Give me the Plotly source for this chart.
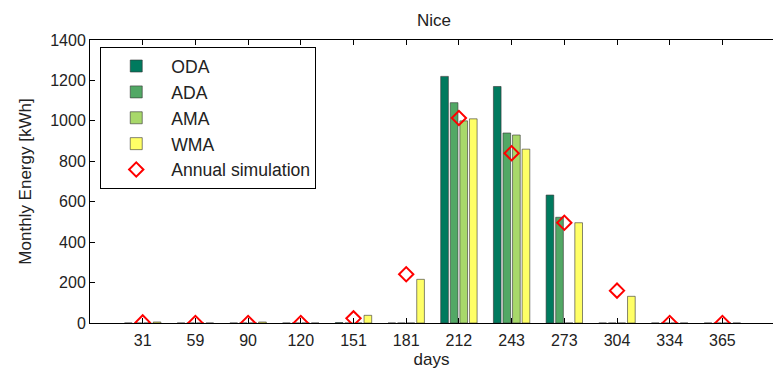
import plotly.graph_objects as go

categories = ["31", "59", "90", "120", "151", "181", "212", "243", "273", "304", "334", "365"]
oda = [0, 0, 0, 0, 2, 0, 1220, 1170, 633, 0, 0, 0]
ada = [0, 0, 0, 0, 0, 0, 1090, 940, 523, 0, 0, 0]
ama = [0, 0, 0, 0, 0, 0, 1000, 930, 0, 0, 0, 0]
wma = [5, 0, 5, 0, 38, 216, 1010, 860, 496, 132, 0, 0]
annual = [3, 0, 0, 0, 23, 241, 1014, 840, 496, 160, 0, 0]
y_ticks = [0, 200, 400, 600, 800, 1000, 1200, 1400]

series_names = ["ODA", "ADA", "AMA", "WMA"]
series_colors = ["#007A5E", "#52A865", "#A8D86A", "#FFFF66"]
series_values = [oda, ada, ama, wma]

xpos = list(range(1, len(categories) + 1))

fig = go.Figure()
for name, col, vals in zip(series_names, series_colors, series_values):
    fig.add_trace(go.Bar(
        x=xpos, y=vals, name=name, legendgroup=name,
        marker=dict(color=col, line=dict(color="#333333", width=0.6)),
    ))
fig.add_trace(go.Scatter(
    x=xpos, y=annual, mode="markers", name="Annual simulation", legendgroup="ann",
    marker=dict(symbol="diamond-open", size=11, color="#FF0000", line=dict(width=2, color="#FF0000")),
))

font = "Liberation Sans, Arial, sans-serif"
fig.update_layout(
    width=773, height=369,
    margin=dict(l=90, r=0, t=40, b=46),
    paper_bgcolor="white", plot_bgcolor="white",
    barmode="group", bargap=0.273, bargroupgap=0.2,
    font=dict(family=font, size=16, color="#222222"),
    title=dict(text="Nice", x=0.5615, xanchor="center", y=0.946, yanchor="middle",
               font=dict(family=font, size=17, color="#222222")),
    showlegend=True,
    legend=dict(x=0.015, y=0.975, xanchor="left", yanchor="top",
                bgcolor="white", bordercolor="black", borderwidth=1,
                font=dict(family=font, size=17.6, color="#222222"),
                tracegroupgap=0, itemwidth=60),
    xaxis=dict(range=[0, 12.96], tickvals=xpos, ticktext=categories,
               ticks="inside", ticklen=5, tickcolor="black", showline=True, linecolor="black",
               linewidth=1, mirror="allticks", showgrid=False, zeroline=False,
               ticklabelstandoff=3,
               title=dict(text="days", standoff=9, font=dict(family=font, size=17)),
               tickfont=dict(family=font, size=16)),
    yaxis=dict(range=[0, 1400], tickvals=y_ticks,
               ticks="inside", ticklen=5, tickcolor="black", showline=True, linecolor="black",
               linewidth=1, mirror=False, showgrid=False, zeroline=False,
               title=dict(text="Monthly Energy [kWh]", standoff=14, font=dict(family=font, size=17)),
               tickfont=dict(family=font, size=16)),
)

fig.write_html("out.html", config={"displayModeBar": False},
               post_script="document.body.style.margin='0';document.body.style.overflow='hidden';")
